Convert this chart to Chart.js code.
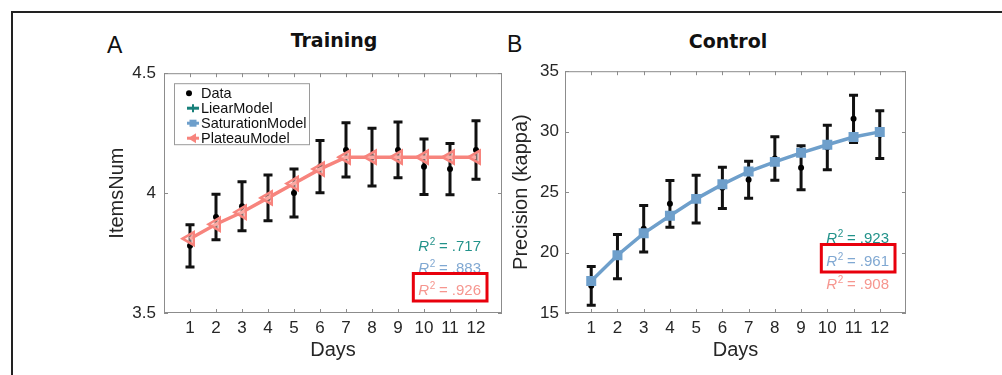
<!DOCTYPE html>
<html>
<head>
<meta charset="utf-8">
<script src="https://cdn.jsdelivr.net/npm/chart.js@4.4.1/dist/chart.umd.min.js"></script>
<style>
  body { margin: 0; background: #fff; }
  #fig { position: relative; width: 1002px; height: 375px; overflow: hidden; background: #fff; }
  .frame { position: absolute; left: 11px; top: 11px; width: 1100px; height: 500px;
           border-left: 2px solid #222; border-top: 2px solid #222; }
  .letter { position: absolute; font: 23px/23px "Liberation Sans", Arial, sans-serif; color: #111; }
  .title { position: absolute; width: 200px; text-align: center; font: bold 19px/19px "DejaVu Sans", sans-serif; color: #111; }
  canvas { position: absolute; }
</style>
</head>
<body>
<div id="fig">
  <div class="frame"></div>
  <div class="letter" style="left:107px;top:34px">A</div>
  <div class="title" style="left:234px;top:31px">Training</div>
  <div class="letter" style="left:507px;top:33px">B</div>
  <div class="title" style="left:628px;top:32px">Control</div>
  <canvas id="chartA" width="420" height="320" style="left:95px;top:55px"></canvas>
  <canvas id="chartB" width="420" height="320" style="left:495px;top:55px"></canvas>
</div>
<script>
// data
const days = [1, 2, 3, 4, 5, 6, 7, 8, 9, 10, 11, 12];

const trainMean = [3.78, 3.90, 3.945, 3.98, 4.00, 4.11, 4.18, 4.15, 4.18, 4.11, 4.10, 4.18];
const trainSem = [0.088, 0.095, 0.102, 0.095, 0.10, 0.109, 0.113, 0.12, 0.116, 0.116, 0.107, 0.122];
const trainPlateau = [3.81, 3.87, 3.92, 3.98, 4.04, 4.10, 4.15, 4.15, 4.15, 4.15, 4.15, 4.15];

const ctrlMean = [17.25, 19.67, 21.97, 24.03, 24.42, 25.35, 26.03, 27.78, 27.02, 28.68, 31.06, 29.75];
const ctrlSem = [1.6, 1.83, 1.93, 1.93, 1.98, 1.7, 1.53, 1.8, 1.82, 1.84, 1.96, 1.97];
const ctrlSaturation = [17.64, 19.78, 21.59, 23.05, 24.44, 25.64, 26.7, 27.5, 28.25, 28.92, 29.56, 29.98];

const trainR2 = ['.717', '.883', '.926'];
const ctrlR2 = ['.923', '.961', '.908'];

const legendNames = ['Data', 'LiearModel', 'SaturationModel', 'PlateauModel'];
const lineColors = ['#000000', '#17807a', '#6e9fcb', '#f7847d'];
const r2Colors = ['#22928a', '#80a8d2', '#f6968f'];

const FONT = '"Liberation Sans", Arial, sans-serif';
const TXT = '#262626';

function pts(ys) {
  return days.map((d, i) => ({ x: d, y: ys[i] }));
}

function decor(cfg) {
  return {
    id: 'decor',
    beforeDatasetsDraw(chart) {
      const { ctx, scales: { x, y } } = chart;
      ctx.save();
      ctx.strokeStyle = '#111';
      ctx.lineWidth = 3;
      cfg.mean.forEach((m, i) => {
        const px = x.getPixelForValue(days[i]);
        const top = y.getPixelForValue(m + cfg.sem[i]);
        const bot = y.getPixelForValue(m - cfg.sem[i]);
        ctx.beginPath();
        ctx.moveTo(px, top); ctx.lineTo(px, bot);
        ctx.moveTo(px - 4.5, top); ctx.lineTo(px + 4.5, top);
        ctx.moveTo(px - 4.5, bot); ctx.lineTo(px + 4.5, bot);
        ctx.stroke();
      });
      ctx.restore();
    },
    afterDraw(chart) {
      const { ctx, chartArea: a, scales: { x, y } } = chart;
      ctx.save();
      // axes box
      ctx.strokeStyle = '#8c8c8c';
      ctx.lineWidth = 1;
      ctx.strokeRect(a.left + 0.5, a.top + 0.5, a.right - a.left - 1, a.bottom - a.top - 1);
      // inward ticks
      ctx.beginPath();
      days.forEach(d => {
        const px = Math.round(x.getPixelForValue(d)) + 0.5;
        ctx.moveTo(px, a.bottom); ctx.lineTo(px, a.bottom - 4);
        ctx.moveTo(px, a.top); ctx.lineTo(px, a.top + 4);
      });
      y.ticks.forEach(t => {
        const py = Math.round(y.getPixelForValue(t.value)) + 0.5;
        ctx.moveTo(a.left, py); ctx.lineTo(a.left + 4, py);
        ctx.moveTo(a.right, py); ctx.lineTo(a.right - 4, py);
      });
      ctx.stroke();

      // R^2 labels
      const rx = a.right - cfg.r2Right;
      cfg.r2.forEach((val, i) => {
        const by = a.bottom - cfg.r2Base + cfg.r2Step * i;
        ctx.font = 'italic 15px ' + FONT;
        const w1 = ctx.measureText('R').width;
        ctx.font = '10px ' + FONT;
        const w2 = ctx.measureText('2').width;
        ctx.font = '15px ' + FONT;
        const rest = ' = ' + val;
        const w3 = ctx.measureText(rest).width;
        const w = w1 + w2 + w3;
        const sx = rx - w;
        ctx.fillStyle = r2Colors[i];
        ctx.textBaseline = 'alphabetic';
        ctx.textAlign = 'left';
        ctx.font = 'italic 15px ' + FONT;
        ctx.fillText('R', sx, by);
        ctx.font = '10px ' + FONT;
        ctx.fillText('2', sx + w1 + 0.5, by - 6);
        ctx.font = '15px ' + FONT;
        ctx.fillText(rest, sx + w1 + w2, by);
        if (i === cfg.best) {
          ctx.strokeStyle = '#e8000c';
          ctx.lineWidth = 3;
          ctx.strokeRect(sx - 5, by - 21.5, w + 11, 27.5);
        }
      });

      // legend
      if (cfg.legend) {
        const lx = a.left + 10, ly = a.top + 10;
        ctx.fillStyle = '#fff';
        ctx.fillRect(lx, ly, 135, 61);
        ctx.strokeStyle = '#9a9a9a';
        ctx.lineWidth = 1;
        ctx.strokeRect(lx + 0.5, ly + 0.5, 135, 61);
        legendNames.forEach((name, i) => {
          const cy = ly + 10 + 15 * i;
          const mx = lx + 19;
          ctx.fillStyle = lineColors[i];
          ctx.strokeStyle = lineColors[i];
          if (i === 0) {
            ctx.beginPath();
            ctx.arc(mx - 4, cy, 3, 0, Math.PI * 2);
            ctx.fill();
          } else {
            ctx.lineWidth = 3;
            ctx.beginPath();
            ctx.moveTo(mx - 6, cy); ctx.lineTo(mx + 6, cy);
            ctx.stroke();
            if (i === 1) {
              ctx.lineWidth = 2;
              ctx.beginPath();
              ctx.moveTo(mx, cy - 4); ctx.lineTo(mx, cy + 4);
              ctx.stroke();
            } else if (i === 2) {
              ctx.fillRect(mx - 3.5, cy - 3.5, 7, 7);
            } else {
              ctx.beginPath();
              ctx.moveTo(mx - 5, cy); ctx.lineTo(mx + 3, cy - 5); ctx.lineTo(mx + 3, cy + 5);
              ctx.closePath();
              ctx.fill();
            }
          }
          ctx.fillStyle = '#111';
          ctx.font = '14.5px ' + FONT;
          ctx.textBaseline = 'middle';
          ctx.textAlign = 'left';
          ctx.fillText(name, lx + 27, cy + 0.5);
        });
      }
      ctx.restore();
    }
  };
}

function makeChart(id, o) {
  return new Chart(document.getElementById(id), {
    type: 'line',
    data: {
      datasets: [
        {
          label: o.modelLabel,
          data: pts(o.model),
          order: 0,
          borderColor: o.modelColor,
          borderWidth: 3.5,
          pointStyle: o.pointStyle,
          rotation: o.rotation,
          pointRadius: o.pointRadius,
          pointBackgroundColor: o.pointFill,
          pointBorderColor: o.modelColor,
          pointBorderWidth: o.pointBorder,
          tension: 0,
          fill: false
        },
        {
          label: 'Data',
          data: pts(o.mean),
          order: 1,
          showLine: false,
          pointRadius: 3,
          pointBackgroundColor: '#000',
          pointBorderColor: '#000',
          pointBorderWidth: 0
        }
      ]
    },
    options: {
      responsive: false,
      animation: false,
      devicePixelRatio: 1,
      layout: { autoPadding: false, padding: { top: 8, right: o.padRight, bottom: 0, left: 0 } },
      plugins: { legend: { display: false }, tooltip: { enabled: false } },
      scales: {
        x: {
          type: 'linear',
          min: 0,
          max: 13,
          afterFit: s => { s.height = 62; },
          grid: { display: false, drawTicks: false },
          border: { display: false },
          ticks: {
            stepSize: 1,
            autoSkip: false,
            maxRotation: 0,
            padding: 5,
            color: TXT,
            font: { family: FONT, size: 17 },
            callback: v => (v >= 1 && v <= 12 ? v : '')
          },
          title: {
            display: true,
            text: 'Days',
            color: TXT,
            font: { family: FONT, size: 20 },
            padding: { top: 0, bottom: 13 }
          }
        },
        y: {
          min: o.yMin,
          max: o.yMax,
          afterFit: s => { s.width = o.yWidth; },
          grid: { display: false, drawTicks: false },
          border: { display: false },
          ticks: {
            stepSize: o.yStep,
            padding: o.tickPad,
            color: TXT,
            font: { family: FONT, size: 17 },
            callback: v => String(v)
          },
          title: {
            display: true,
            text: o.yTitle,
            color: TXT,
            font: { family: FONT, size: 20 },
            padding: { top: o.titlePad, bottom: 0 }
          }
        }
      }
    },
    plugins: [decor(o.decor)]
  });
}

makeChart('chartA', {
  model: trainPlateau,
  mean: trainMean,
  modelLabel: 'PlateauModel',
  modelColor: '#f7847d',
  pointStyle: 'triangle',
  rotation: -90,
  pointRadius: 7.5,
  pointBorder: 2.5,
  pointFill: 'rgba(255,215,210,0.45)',
  padRight: 13,
  yMin: 3.5, yMax: 4.5, yStep: 0.5,
  yWidth: 69, tickPad: 8, titlePad: 10,
  yTitle: 'ItemsNum',
  decor: { mean: trainMean, sem: trainSem, r2: trainR2, best: 2, r2Right: 21, r2Base: 62, r2Step: 22, legend: true }
});

makeChart('chartB', {
  model: ctrlSaturation,
  mean: ctrlMean,
  modelLabel: 'SaturationModel',
  modelColor: '#6e9fcb',
  pointStyle: 'rect',
  rotation: 0,
  pointRadius: 6,
  pointBorder: 1.5,
  pointFill: '#6e9fcb',
  padRight: 9,
  yMin: 15, yMax: 35, yStep: 5,
  yWidth: 70, tickPad: 6, titlePad: 14,
  yTitle: 'Precision (kappa)',
  decor: { mean: ctrlMean, sem: ctrlSem, r2: ctrlR2, best: 1, r2Right: 17, r2Base: 70, r2Step: 23, legend: false }
});
</script>
</body>
</html>
